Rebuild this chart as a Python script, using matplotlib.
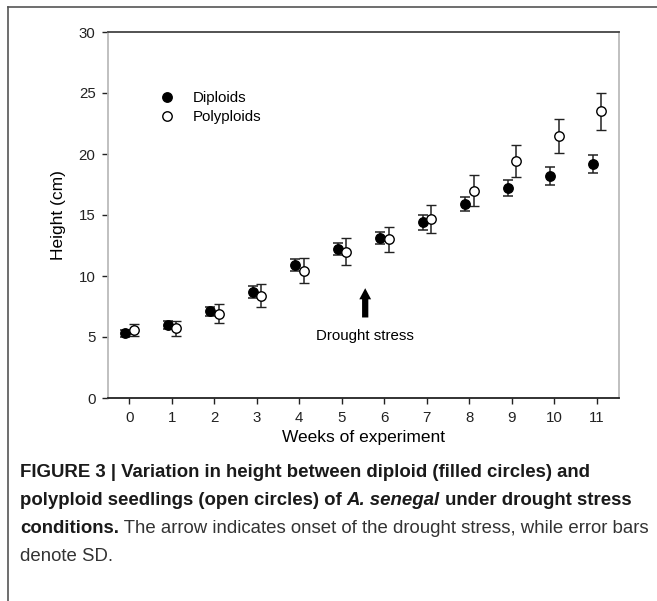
"""
Height of diploid vs polyploid A. senegal seedlings under drought stress.
"""

import matplotlib
matplotlib.use("Agg")
import matplotlib.pyplot as plt
from matplotlib.lines import Line2D
import numpy as np

plt.rcParams["font.family"] = ["Liberation Sans", "DejaVu Sans"]

weeks = [0, 1, 2, 3, 4, 5, 6, 7, 8, 9, 10, 11]
diploid_mean = [5.3, 6.0, 7.1, 8.7, 10.9, 12.2, 13.1, 14.4, 15.9, 17.2, 18.2, 19.2]
diploid_sd = [0.3, 0.35, 0.4, 0.5, 0.52, 0.5, 0.5, 0.6, 0.6, 0.65, 0.75, 0.75]
polyploid_mean = [5.6, 5.7, 6.9, 8.4, 10.45, 12.0, 13.0, 14.7, 17.0, 19.4, 21.5, 23.5]
polyploid_sd = [0.5, 0.65, 0.78, 0.97, 1.02, 1.08, 1.05, 1.15, 1.25, 1.3, 1.4, 1.5]

y_ticks = [0, 5, 10, 15, 20, 25, 30]
drought_week = 5.55

caption_lines = [
    [("FIGURE 3 | Variation in height between diploid (filled circles) and", "bold", "normal")],
    [("polyploid seedlings (open circles) of ", "bold", "normal"),
     ("A. senegal", "bold", "italic"),
     (" under drought stress", "bold", "normal")],
    [("conditions.", "bold", "normal"),
     (" The arrow indicates onset of the drought stress, while error bars", "normal", "normal")],
    [("denote SD.", "normal", "normal")],
]


def draw_caption(fig, lines, x0, y0, dy, size):
    fig.canvas.draw()
    renderer = fig.canvas.get_renderer()
    W, H = fig.bbox.width, fig.bbox.height
    for i, parts in enumerate(lines):
        x = x0
        y = y0 + i * dy
        for txt, weight, style in parts:
            color = "#1a1a1a" if weight == "bold" else "#333333"
            t = fig.text(x / W, 1 - y / H, txt, fontsize=size, fontweight=weight,
                         fontstyle=style, color=color, va="baseline", ha="left")
            bb = t.get_window_extent(renderer)
            x += bb.width


def main():
    fig = plt.figure(figsize=(6.57, 6.01), dpi=100)
    W, H = 657, 601
    ax = fig.add_axes([108 / W, 1 - 398 / H, 511 / W, 366 / H])

    x = np.array(weeks)
    ax.errorbar(x - 0.1, diploid_mean, yerr=diploid_sd, fmt="o", ms=6.8,
                mfc="black", mec="black", ecolor="#222222", elinewidth=1.1,
                capsize=3.8, capthick=1.1, zorder=3)
    ax.errorbar(x + 0.1, polyploid_mean, yerr=polyploid_sd, fmt="o", ms=6.8,
                mfc="white", mec="black", mew=1.0, ecolor="#222222",
                elinewidth=1.1, capsize=3.8, capthick=1.1, zorder=3)

    ax.set_xlim(-0.5, 11.52)
    ax.set_ylim(0, 30)
    ax.set_xticks(weeks)
    ax.set_yticks(y_ticks)
    ax.tick_params(direction="out", length=4, width=1, labelsize=10.8,
                   colors="#222222", pad=5)
    ax.spines["top"].set_color("#444444")
    ax.spines["bottom"].set_color("#222222")
    ax.spines["left"].set_color("#bbbbbb")
    ax.spines["right"].set_color("#bbbbbb")
    for s in ax.spines.values():
        s.set_linewidth(1.3)

    ax.set_xlabel("Weeks of experiment", fontsize=12.5, labelpad=4)
    ax.set_ylabel("Height (cm)", fontsize=12.5, labelpad=9)

    # arrow marking onset of drought
    ax.annotate("", xy=(drought_week, 9.0), xytext=(drought_week, 6.6),
                arrowprops=dict(arrowstyle="simple,head_length=0.8,head_width=0.85,tail_width=0.45",
                                mutation_scale=10, lw=0, color="black",
                                shrinkA=0, shrinkB=0))
    ax.text(drought_week, 5.1, "Drought stress", ha="center", va="center",
            fontsize=10.8)

    handles = [
        Line2D([], [], ls="none", marker="o", ms=6.8, mfc="black", mec="black"),
        Line2D([], [], ls="none", marker="o", ms=6.8, mfc="white", mec="black"),
    ]
    ax.legend(handles, ["Diploids", "Polyploids"], loc="upper left",
              bbox_to_anchor=(0.075, 0.875), frameon=False, fontsize=10.8,
              handletextpad=1.2, labelspacing=0.3, handlelength=1.0)

    # figure frame (top and left edges)
    fig.add_artist(Line2D([8 / W, 8 / W], [0, 1 - 7 / H], color="#555555", lw=1.2))
    fig.add_artist(Line2D([8 / W, 1], [1 - 7 / H, 1 - 7 / H], color="#555555", lw=1.2))

    draw_caption(fig, caption_lines, 20, 477, 28, 13.4)

    fig.savefig("out.png", dpi=100)
    plt.close(fig)


if __name__ == "__main__":
    main()
